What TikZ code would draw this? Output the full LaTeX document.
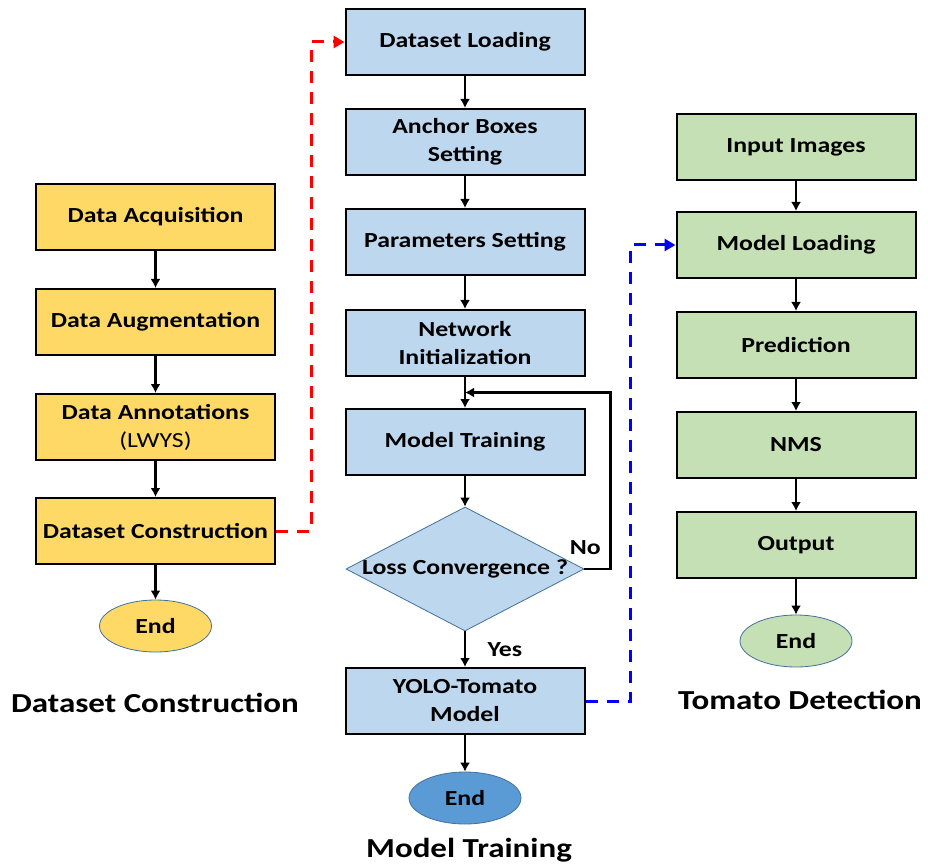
\documentclass[tikz,border=0pt]{standalone}
\usepackage{fontspec}
\setmainfont{Carlito}[FakeStretch=1.2]
\usetikzlibrary{positioning,shapes.geometric,arrows.meta}
\definecolor{boxyellow}{HTML}{FFD966}
\definecolor{boxblue}{HTML}{BDD7EE}
\definecolor{boxgreen}{HTML}{C5E0B4}
\definecolor{enddark}{HTML}{5B9BD5}
\definecolor{edgeblue}{HTML}{41719C}
\tikzstyle{blk}=[draw, line width=2pt, minimum height=66pt, minimum width=239pt, align=center, font=\fontsize{21.5}{28}\selectfont\bfseries]
\tikzstyle{ybox}=[blk, fill=boxyellow]
\tikzstyle{bbox}=[blk, fill=boxblue]
\tikzstyle{gbox}=[blk, fill=boxgreen]
\tikzstyle{term}=[ellipse, draw=edgeblue, line width=0.8pt, minimum width=112pt, minimum height=52pt, font=\fontsize{21.5}{24}\selectfont\bfseries]
\tikzstyle{decide}=[diamond, draw=edgeblue, fill=boxblue, line width=0.8pt, minimum width=238pt, minimum height=124pt, inner sep=0pt]
\tikzstyle{title}=[font=\fontsize{27.5}{32}\selectfont\bfseries]
\tikzstyle{link}=[dashed, dash pattern=on 12pt off 9pt, line width=3pt]

\begin{document}
\begin{tikzpicture}[x=1pt,y=1pt,node distance=100pt,auto,>={Latex[length=9pt,width=10pt]}]
\useasboundingbox (0,0) rectangle (928,-866);

% dataset construction
\node[ybox] at (155.5,-217) (acq) {Data Acquisition};
\node[ybox, below of = acq, node distance = 105pt] (aug) {Data Augmentation};
\node[ybox, below of = aug, node distance = 105pt] (ann) {Data Annotations\\{\mdseries (LWYS)}};
\node[ybox, below of = ann, node distance = 104pt] (cons) {Dataset Construction};
\node[term, fill=boxyellow, below of = cons, node distance = 95pt] (end1) {End};
\node[title] at (155,-703) (t1) {Dataset Construction};
\draw[->,line width = 2.5pt] (acq) -- (aug);
\draw[->,line width = 2.5pt] (aug) -- (ann);
\draw[->,line width = 2.5pt] (ann) -- (cons);
\draw[->,line width = 2.5pt] (cons) -- (end1);

% model training
\node[bbox] at (465,-42) (load) {Dataset Loading};
\node[bbox, below of = load, node distance = 100pt] (anchor) {Anchor Boxes\\Setting};
\node[bbox, below of = anchor, node distance = 100pt] (param) {Parameters Setting};
\node[bbox, below of = param, node distance = 101pt] (netinit) {Network\\Initialization};
\node[bbox, below of = netinit, node distance = 99pt] (train) {Model Training};
\node[decide, below of = train, node distance = 127pt, label={[font=\fontsize{21.5}{24}\selectfont\bfseries]center:Loss Convergence ?}] (conv) {};
\node[bbox, below of = conv, node distance = 132pt] (yolo) {YOLO-Tomato\\Model};
\node[term, fill=enddark, below of = yolo, node distance = 97pt] (end2) {End};
\node[title] at (469,-850) (t2) {Model Training};
\coordinate (back) at (465,-392.5);
\draw[->,line width = 2.5pt] (load) -- (anchor);
\draw[->,line width = 2.5pt] (anchor) -- (param);
\draw[->,line width = 2.5pt] (param) -- (netinit);
\draw[->,line width = 2.5pt] (netinit) -- (train);
\draw[->,line width = 2.5pt] (train) -- (conv);
\draw[->,line width = 2.5pt] (conv.east) -- node[above, xshift = -12pt, yshift = 10pt, font=\fontsize{21.5}{24}\selectfont\bfseries] (no) {No} ++(26,0) |- (back);
\draw[->,line width = 2.5pt] (conv) -- node[right, xshift = 18pt, font=\fontsize{21.5}{24}\selectfont\bfseries] (yes) {Yes} (yolo);
\draw[->,line width = 2.5pt] (yolo) -- (end2);

% tomato detection
\node[gbox] at (796,-147) (input) {Input Images};
\node[gbox, below of = input, node distance = 98pt] (mload) {Model Loading};
\node[gbox, below of = mload, node distance = 100pt] (pred) {Prediction};
\node[gbox, below of = pred, node distance = 100pt] (nms) {NMS};
\node[gbox, below of = nms, node distance = 100pt] (out) {Output};
\node[term, fill=boxgreen, below of = out, node distance = 96pt] (end3) {End};
\node[title] at (800,-700) (t3) {Tomato Detection};
\draw[->,line width = 2.5pt] (input) -- (mload);
\draw[->,line width = 2.5pt] (mload) -- (pred);
\draw[->,line width = 2.5pt] (pred) -- (nms);
\draw[->,line width = 2.5pt] (nms) -- (out);
\draw[->,line width = 2.5pt] (out) -- (end3);

% hand-over between stages
\draw[link, red, -{Triangle[length=11pt,width=12pt]}] (cons.east) -- ++(35,0) |- (load.west);
\draw[link, blue, -{Triangle[length=11pt,width=12pt]}] (yolo.east) -- ++(45,0) |- (mload.west);
\end{tikzpicture}
\end{document}
